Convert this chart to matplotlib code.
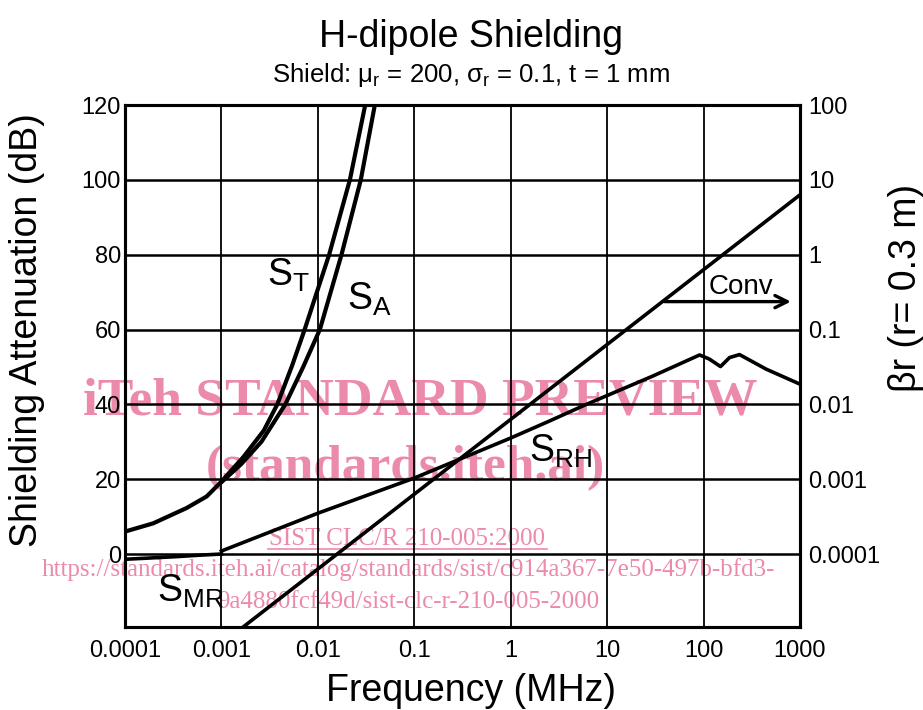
import matplotlib
matplotlib.use('Agg')
import matplotlib.pyplot as plt
from matplotlib.lines import Line2D

plt.rcParams['font.family'] = ['Liberation Sans', 'DejaVu Sans']
plt.rcParams['mathtext.fontset'] = 'custom'
plt.rcParams['mathtext.rm'] = 'Liberation Sans'

# valores (frecuencia en MHz, atenuacion en dB)
f_st = [1e-4, 1.96e-4, 4.36e-4, 7.04e-4, 9.7e-4, 1.7e-3, 2.75e-3, 3.8e-3, 5.4e-3, 7.3e-3,
        1.31e-2, 2.15e-2, 3.1e-2]
s_t = [6, 8.2, 12.3, 15.4, 19.0, 26, 33, 40, 50.3, 60, 80, 100, 120]

f_sa = [1e-3, 1.6e-3, 2.6e-3, 4.6e-3, 7.05e-3, 1.05e-2, 1.76e-2, 2.79e-2, 3.9e-2]
s_a = [19.2, 24, 30, 40, 50, 60, 80, 100, 120]

f_srh = [1e-3, 1e-2, 0.1, 1, 2.5, 6.1, 30, 91, 115, 150, 186, 236, 447, 1000]
s_rh = [0.8, 10.9, 20.3, 31, 35.5, 40, 47.6, 53.2, 52.1, 50.1, 52.5, 53.3, 49.4, 45.4]

f_smr = [1e-4, 3.4e-4, 6e-4, 1e-3]
s_mr = [-1.4, -0.7, -0.3, 0]

# beta*r en el eje derecho
f_br = [1e-3, 1000]
br = [6.3e-6, 6.3]

xticks = [1e-4, 1e-3, 1e-2, 1e-1, 1, 10, 100, 1000]
xlabels = ['0.0001', '0.001', '0.01', '0.1', '1', '10', '100', '1000']
yticks = [0, 20, 40, 60, 80, 100, 120]
rticks = [1e-4, 1e-3, 1e-2, 1e-1, 1, 10, 100]
rlabels = ['0.0001', '0.001', '0.01', '0.1', '1', '10', '100']

fig = plt.figure(figsize=(9.23, 7.1), dpi=100)
ax = fig.add_axes([0.1354, 0.1169, 0.7313, 0.7352])
ax.set_facecolor('none')
ax.set_xscale('log')
ax.set_xlim(1e-4, 1000)
ax.set_ylim(-19.5, 120)

for y in yticks:
    ax.axhline(y, color='black', lw=1.8, zorder=1)
for x in xticks[1:-1]:
    ax.axvline(x, color='black', lw=1.3, zorder=1)

ax.plot(f_st, s_t, color='black', lw=3, zorder=3)
ax.plot(f_sa, s_a, color='black', lw=3, zorder=3)
ax.plot(f_srh, s_rh, color='black', lw=2.6, zorder=3)
ax.plot(f_smr, s_mr, color='black', lw=2.6, zorder=3)

ax.set_xticks(xticks)
ax.set_xticklabels(xlabels)
ax.minorticks_off()
ax.set_yticks(yticks)
ax.tick_params(axis='x', length=0, pad=9, labelsize=17)
ax.tick_params(axis='y', length=0, pad=3, labelsize=17)
for s in ax.spines.values():
    s.set_linewidth(2.2)

ax2 = ax.twinx()
ax2.set_facecolor('none')
ax2.set_yscale('log')
ax2.set_ylim(10 ** (-19.5 / 20 - 4), 100)
ax2.plot(f_br, br, color='black', lw=2.6, zorder=3)
ax2.set_yticks(rticks)
ax2.set_yticklabels(rlabels)
ax2.minorticks_off()
ax2.tick_params(axis='y', length=0, pad=6, labelsize=17)
for s in ax2.spines.values():
    s.set_linewidth(2.2)

ax2.annotate('', xy=(860, 0.236), xytext=(37, 0.236),
             arrowprops=dict(arrowstyle='->', lw=2.4, color='black',
                             mutation_scale=22))
ax2.text(112, 0.25, 'Conv', fontsize=20, ha='left', va='bottom')

# etiquetas de las curvas
ax.text(0.0030, 74.6, r'S$_\mathregular{T}$', fontsize=27, ha='left', va='center')
ax.text(0.0199, 68, r'S$_\mathregular{A}$', fontsize=27, ha='left', va='center')
ax.text(1.55, 27.5, r'S$_\mathregular{RH}$', fontsize=27, ha='left', va='center')
ax.text(0.000215, -10.1, r'S$_\mathregular{MR}$', fontsize=27, ha='left', va='center')

ax.set_xlabel('Frequency (MHz)', fontsize=27)
ax.xaxis.set_label_coords(0.513, -0.088)
ax.set_ylabel('Shielding Attenuation (dB)', fontsize=27)
ax.yaxis.set_label_coords(-0.1185, 0.569)
ax2.set_ylabel('βr (r= 0.3 m)', fontsize=27)
ax2.yaxis.set_label_coords(1.13, 0.649)

fig.text(0.51, 0.948, 'H-dipole Shielding', fontsize=27, ha='center', va='center')
fig.text(0.51, 0.894, r'Shield: μ$_\mathregular{r}$ = 200, σ$_\mathregular{r}$ = 0.1, t = 1 mm',
         fontsize=18.5, ha='center', va='center')

# marca de agua
pink = '#ec8aab'
wm = dict(color=pink, ha='center', va='baseline', zorder=-1,
          family=['Liberation Serif', 'DejaVu Serif'])
fig.text(0.455, 0.4155, 'iTeh STANDARD PREVIEW', fontsize=38.5, weight='bold', **wm)
fig.text(0.439, 0.324, '(standards.iteh.ai)', fontsize=37, weight='bold', **wm)
fig.text(0.441, 0.2324, 'SIST CLC/R 210-005:2000', fontsize=18, **wm)
fig.text(0.442, 0.1887, 'https://standards.iteh.ai/catalog/standards/sist/c914a367-7e50-497b-bfd3-',
         fontsize=18, **wm)
fig.text(0.442, 0.1437, '9a4880fcf49d/sist-clc-r-210-005-2000', fontsize=18, **wm)
fig.add_artist(Line2D([268 / 923, 547 / 923], [0.2265, 0.2265], color=pink, lw=1.2, zorder=-1))

fig.savefig('out.png', dpi=100)
